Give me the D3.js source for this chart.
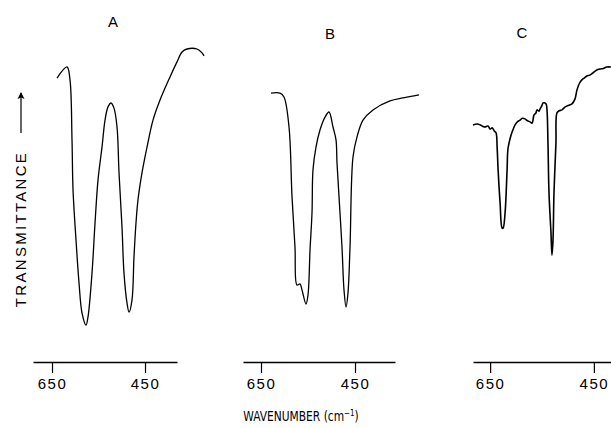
<!DOCTYPE html>
<html><head><meta charset="utf-8">
<script src="https://cdn.jsdelivr.net/npm/d3@7"></script>
<style>body{margin:0;background:#fff}svg{display:block}</style>
</head><body><svg id="c" width="611" height="428"></svg>
<script>
// ---- data ----
const panelTitles = ["A", "B", "C"];
const tickValues = [650, 450];
const axisDomains = [[690.9, 381.2], [688.3, 364.9], [683, 417]];
const xAxisTitle = "WAVENUMBER (cm";
const yAxisTitle = "TRANSMITTANCE";

const wavenumberA = [639.2,617.7,611.3,607.0,604.8,598.4,591.9,585.5,576.9,572.6,564.0,557.5,551.1,542.5,536.0,529.6,523.1,516.7,510.2,505.9,499.5,495.2,488.7,484.4,478.0,473.7,469.4,465.1,456.5,445.7,432.8,417.7,396.2,381.2,370.4,359.7,338.2,327.4,323.1];
const transA      = [87.3,91,86.7,66.7,50,33.3,19,9,5,7.7,22.3,39,53.3,64.3,73.3,77.7,79,77.3,71,55.7,37.7,22.3,12.3,9.3,13.3,27.7,39,46.7,55.7,64.3,73.3,80,87.7,92.7,96,97,97,95.7,94.7];

const wavenumberB = [628.7,609.6,601.1,590.4,584.0,577.7,573.4,567.0,562.8,554.3,550.0,545.7,541.5,539.4,533.0,524.5,513.8,505.3,496.8,490.4,488.3,484.0,477.7,473.4,469.1,464.9,460.6,454.3,445.7,433.0,411.7,375.5,347.9,313.8];
const transB      = [82.3,82.3,81,71,47.7,31,18.3,18.7,16.7,12,15,30,42.3,56.7,64.3,70,74.3,76,71,66.7,59,47.7,31,16.7,11,15.7,31,61,67.7,73.3,76.7,79.7,80.7,81.7];

const wavenumberC = [683,675,669,664,660,654,650,646,642,638.5,636.5,634.6,630.8,626.9,625,621.2,617.3,615.4,609.6,605,601.9,597,592.3,588,582.7,579,576.9,573.1,569.2,565.4,562,559.6,556,553.8,550,548.1,542.3,540.4,538.5,536.5,532.7,530.8,528.8,526.9,523.1,521.2,517,511.5,506,501.9,497,492.3,486.5,482.7,478,473.1,468,463.5,458,452,445,438.5,432,425,417.3];
const transC      = [71.7,72,71.7,71.2,71,71.3,70.3,70.7,69.7,69,64.3,56.7,45.7,37.3,37.3,42.3,56.7,64,68.3,70.5,71.7,72.8,73.3,73.9,73.7,73.2,73,72.7,72.3,75,75.6,76.7,76.3,77,78.2,79,78.7,76.7,65.7,49,35.7,28.3,33.3,49,65.7,75.7,76.4,76.7,77.6,78,78.3,78.7,80.3,83.3,85.5,86.7,87.4,88,88.3,89,89.9,90.3,90.5,91,91];

const spectra = [
  {wn: wavenumberA, t: transA},
  {wn: wavenumberB, t: transB},
  {wn: wavenumberC, t: transC}
];

// ---- layout ----
const svg = d3.select("#c");
const panelRanges = [[33, 177], [243, 395], [473, 611]];
const titlePos = [[113, 27], [330, 39], [522, 38]];
const axisY = 362;
const y = d3.scaleLinear().domain([0, 100]).range([340, 40]);

spectra.forEach((s, i) => {
  const x = d3.scaleLinear().domain(axisDomains[i]).range(panelRanges[i]);
  const pts = s.wn.map((w, k) => [w, s.t[k]]);
  svg.append("path")
    .datum(pts)
    .attr("fill", "none")
    .attr("stroke", "#000")
    .attr("stroke-width", i === 2 ? 1.6 : 1.3)
    .attr("stroke-linejoin", "round")
    .attr("d", d3.line().x(d => x(d[0])).y(d => y(d[1])).curve(d3.curveCatmullRom.alpha(0.5)));

  const ax = svg.append("g")
    .attr("transform", `translate(0,${axisY})`)
    .call(d3.axisBottom(x).tickValues(tickValues).tickSizeOuter(0).tickSizeInner(11).tickPadding(5).tickFormat(d3.format("d")));
  ax.select(".domain").attr("stroke", "#000").attr("stroke-width", 1.4);
  ax.selectAll(".tick line").attr("stroke", "#000").attr("stroke-width", 1.2);
  ax.selectAll(".tick text")
    .attr("fill", "#000")
    .style("font-family", "'Liberation Sans', Arial, sans-serif")
    .style("font-size", "15px")
    .style("letter-spacing", "1.5px");

  svg.append("text")
    .attr("x", titlePos[i][0]).attr("y", titlePos[i][1])
    .attr("text-anchor", "middle")
    .style("font-family", "'Liberation Sans', Arial, sans-serif")
    .style("font-size", "15px")
    .text(panelTitles[i]);
});

// x axis title
const xt = svg.append("text")
  .attr("transform", "translate(301,421) scale(0.88,1)")
  .attr("text-anchor", "middle")
  .style("font-family", "'DejaVu Sans Condensed', 'DejaVu Sans', sans-serif")
  .style("font-stretch", "condensed")
  .style("font-size", "13.5px");
xt.append("tspan").text(xAxisTitle);
xt.append("tspan").attr("dy", -5).style("font-size", "9px").text("−1");
xt.append("tspan").attr("dy", 5).text(")");

// y axis title with arrow
const yt = svg.append("g").attr("transform", "translate(26,229) rotate(-90)");
yt.append("text")
  .attr("x", 0).attr("y", 0)
  .attr("text-anchor", "middle")
  .style("font-family", "'Liberation Sans', Arial, sans-serif")
  .style("font-size", "15px")
  .style("letter-spacing", "2.3px")
  .text(yAxisTitle);
yt.append("line").attr("x1", 96).attr("x2", 136).attr("y1", -5).attr("y2", -5)
  .attr("stroke", "#000").attr("stroke-width", 1.2);
yt.append("path").attr("d", "M137,-5 L130,-8.5 L131.5,-5 L130,-1.5 Z").attr("fill", "#000");
</script>
</body></html>
